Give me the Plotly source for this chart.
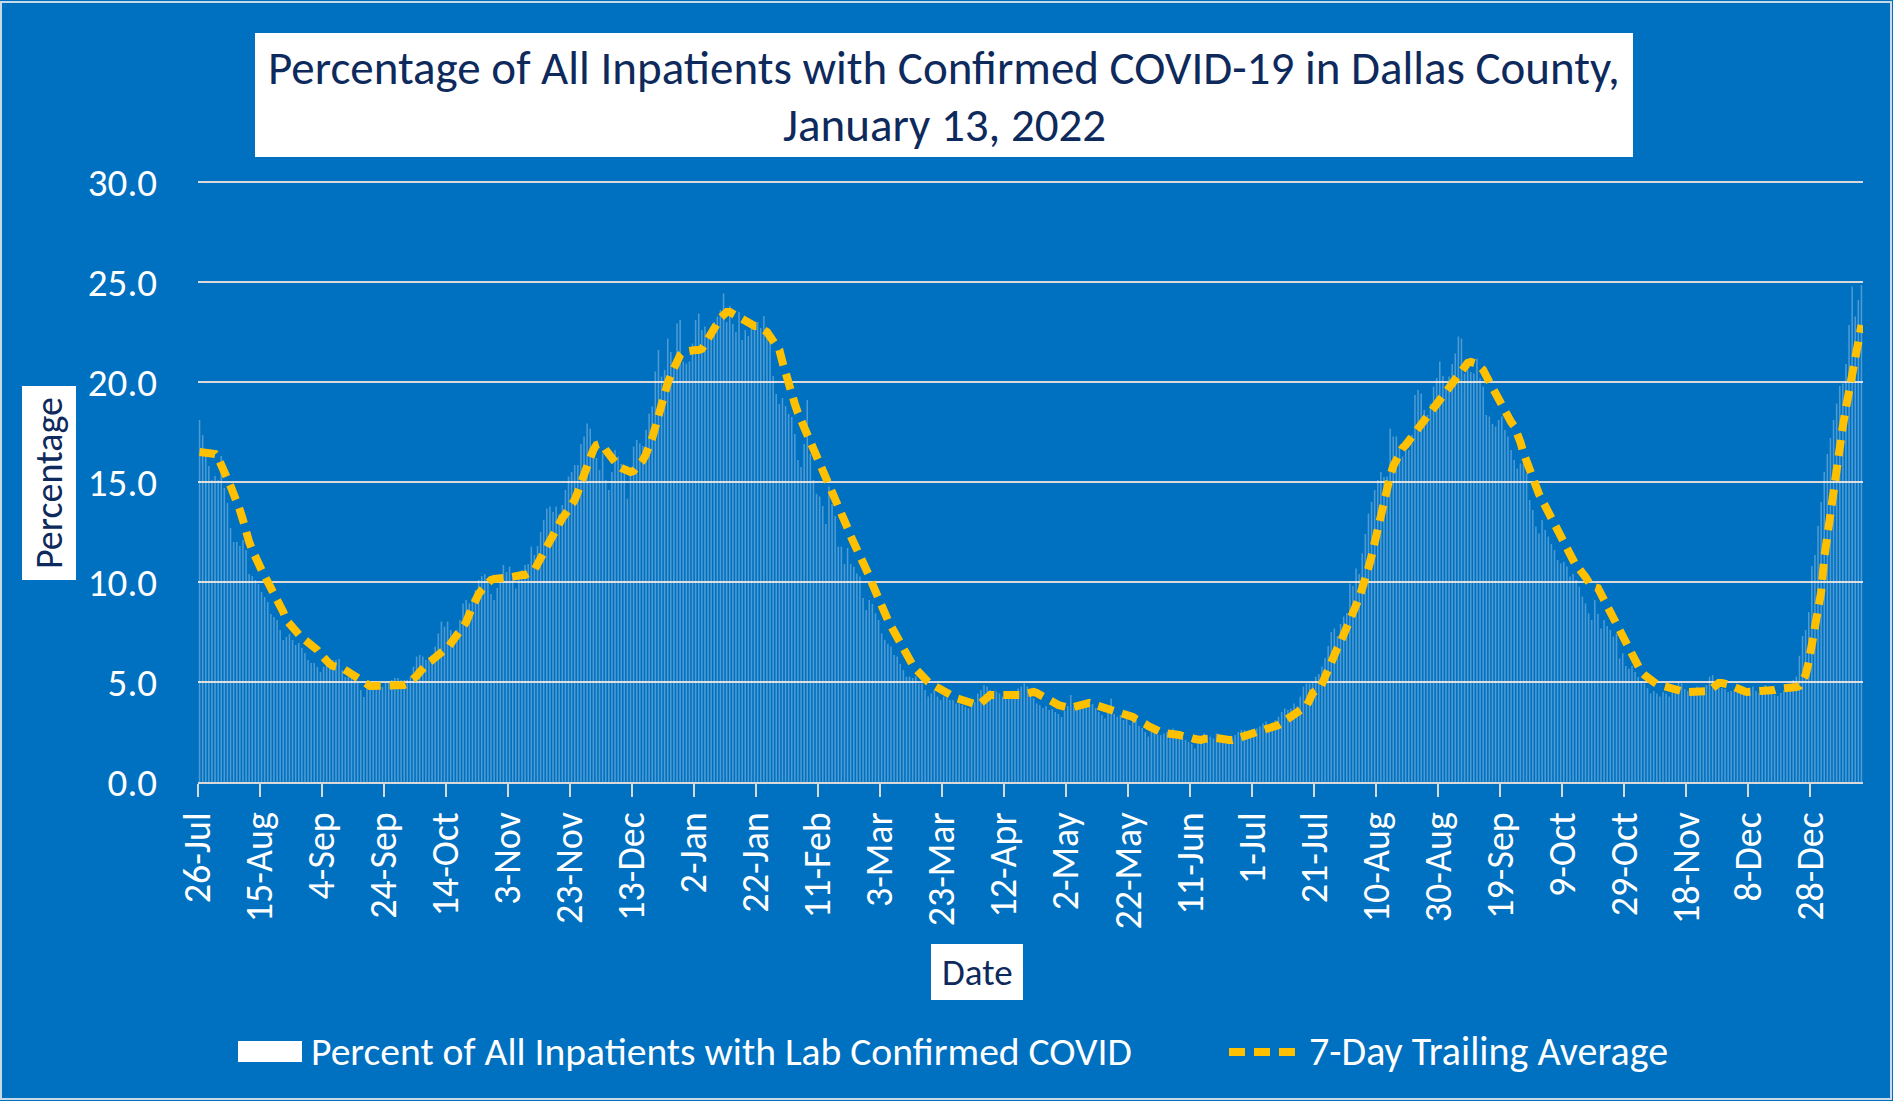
import pandas as pd
import plotly.graph_objects as go

# ---------------- data ----------------
START_DATE = "2020-07-26"

bar_name = "Percent of All Inpatients with Lab Confirmed COVID"
avg_name = "7-Day Trailing Average"

bar_values = [
    18.1, 17.35, 16.4, 15.8, 15.1, 15.3, 15.1, 16.3, 14.7, 13.95,
    12.7, 12.0, 12.0, 11.8, 12.1, 11.6, 10.4, 10.3, 10.1, 9.9,
    9.5, 9.25, 9.0, 8.4, 8.25, 8.1, 7.6, 7.1, 7.25, 7.4,
    7.1, 6.85, 6.95, 6.7, 6.45, 6.1, 5.95, 5.95, 5.75, 5.5,
    5.75, 5.85, 5.95, 6.1, 6.1, 6.15, 5.6, 5.25, 5.25, 5.4,
    5.1, 4.95, 4.6, 4.25, 4.75, 4.75, 4.75, 4.6, 4.6, 4.75,
    4.95, 5.0, 5.1, 5.2, 5.2, 5.1, 5.1, 5.1, 5.27, 5.77,
    6.27, 6.35, 6.27, 6.1, 6.18, 6.35, 6.77, 7.43, 8.02, 7.77,
    8.02, 7.6, 7.43, 7.6, 8.1, 8.93, 9.1, 8.93, 9.2, 9.6,
    10.1, 10.3, 10.4, 10.0, 9.4, 9.1, 9.7, 10.3, 10.85, 10.5,
    10.77, 10.4, 9.68, 10.2, 10.6, 10.85, 10.9, 11.77, 11.35, 11.8,
    12.5, 13.1, 13.68, 13.77, 13.5, 13.77, 13.4, 13.85, 14.6, 15.27,
    15.5, 15.85, 15.85, 16.9, 17.27, 17.93, 17.68, 16.43, 16.2, 15.6,
    16.43, 15.1, 14.6, 15.5, 16.6, 16.27, 15.9, 15.6, 14.18, 15.5,
    16.77, 17.1, 16.93, 16.8, 17.6, 18.43, 18.77, 20.52, 21.6, 20.27,
    20.6, 22.18, 21.5, 20.93, 22.93, 23.1, 21.02, 20.93, 21.02, 21.93,
    23.1, 23.43, 22.6, 22.77, 22.3, 22.77, 23.0, 23.27, 23.6, 24.43,
    23.0, 23.8, 22.9, 22.5, 23.5, 22.1, 22.6, 22.3, 22.8, 22.9,
    23.0, 22.7, 23.3, 22.6, 22.1, 20.3, 19.4, 18.9, 19.2, 18.8,
    18.4, 18.25, 17.4, 16.1, 15.75, 16.9, 19.1, 16.4, 15.1, 14.4,
    14.27, 13.8, 12.9, 14.77, 13.9, 13.3, 11.77, 11.77, 10.9, 11.7,
    10.9, 10.77, 10.43, 10.27, 9.2, 8.6, 9.1, 8.9, 8.43, 8.1,
    7.43, 7.1, 6.9, 6.77, 6.35, 6.27, 5.9, 5.6, 5.27, 5.27,
    5.2, 5.27, 4.93, 4.93, 4.6, 4.27, 4.43, 4.6, 4.27, 4.1,
    4.27, 4.2, 4.1, 4.1, 3.93, 3.93, 3.85, 3.77, 3.68, 3.93,
    4.0, 4.43, 4.6, 4.85, 4.77, 4.6, 4.43, 4.52, 4.43, 4.27,
    4.3, 4.35, 4.43, 4.52, 4.68, 4.77, 4.93, 4.77, 4.6, 4.2,
    3.93, 3.85, 3.7, 3.8, 3.6, 3.65, 3.5, 3.4, 3.25, 3.55,
    3.8, 4.35, 3.8, 3.7, 3.8, 4.0, 3.85, 4.1, 3.9, 3.7,
    3.5, 3.35, 3.18, 3.5, 4.18, 3.4, 3.27, 3.35, 3.1, 3.2,
    2.85, 3.35, 3.1, 2.8, 2.7, 2.5, 2.27, 2.5, 2.6, 2.35,
    2.35, 2.43, 2.5, 2.43, 2.68, 2.5, 2.35, 2.25, 2.1, 2.0,
    1.9, 1.68, 2.1, 2.27, 2.43, 2.35, 2.27, 2.18, 2.43, 2.1,
    2.02, 1.93, 2.1, 2.27, 2.35, 2.5, 2.6, 2.6, 2.43, 2.6,
    2.5, 2.68, 2.77, 2.93, 3.02, 2.85, 2.93, 3.1, 3.27, 3.5,
    3.68, 3.6, 3.68, 3.93, 3.77, 4.27, 4.77, 4.93, 4.93, 5.0,
    5.27, 5.4, 5.77, 6.2, 6.8, 7.5, 7.68, 7.3, 7.9, 8.27,
    8.45, 9.93, 9.8, 10.68, 10.4, 11.43, 12.4, 13.43, 14.0, 14.6,
    15.1, 15.5, 15.25, 15.27, 17.68, 17.27, 17.27, 16.77, 16.27, 16.77,
    16.6, 17.35, 19.35, 19.6, 19.43, 18.6, 18.35, 18.93, 19.77, 20.2,
    21.02, 20.3, 19.8, 20.27, 20.9, 21.43, 22.27, 22.18, 20.43, 20.6,
    20.5, 20.43, 21.18, 20.18, 19.77, 18.35, 18.27, 17.9, 17.77, 18.1,
    18.27, 17.6, 17.27, 16.6, 16.1, 15.68, 15.93, 15.93, 15.43, 14.1,
    13.6, 12.77, 12.43, 13.1, 12.6, 12.27, 11.9, 11.6, 11.1, 10.93,
    11.0, 10.77, 10.27, 10.4, 10.1, 9.77, 9.27, 8.93, 8.43, 8.1,
    9.1, 8.4, 7.68, 8.1, 7.8, 7.6, 7.27, 7.4, 6.18, 6.43,
    5.8, 5.68, 5.8, 5.5, 5.25, 5.05, 4.93, 4.7, 4.43, 4.55,
    4.43, 4.27, 4.5, 4.43, 4.27, 4.5, 4.75, 5.0, 4.93, 4.65,
    4.55, 4.65, 4.7, 4.77, 4.55, 4.7, 4.85, 5.27, 5.35, 5.0,
    4.8, 4.7, 4.65, 4.5, 4.55, 4.6, 4.7, 4.65, 4.45, 4.6,
    4.7, 4.77, 4.55, 4.45, 4.6, 4.85, 4.6, 4.45, 4.35, 4.3,
    4.45, 4.6, 4.85, 4.6, 5.1, 5.27, 6.3, 7.3, 7.6, 8.5,
    10.8, 11.35, 12.8, 14.0, 15.5, 16.4, 17.2, 18.1, 18.93, 19.8,
    19.93, 20.9, 22.85, 24.77, 23.27, 24.1, 24.85,
]

avg_values = [
    16.5, 16.5, 16.5, 16.4, 16.4, 16.4, 16.2, 15.9, 15.6, 15.2,
    14.8, 14.4, 14.1, 13.6, 13.1, 12.4, 12.0, 11.6, 11.2, 10.9,
    10.6, 10.3, 10.0, 9.8, 9.6, 9.2, 8.9, 8.5, 8.1, 7.9,
    7.7, 7.5, 7.4, 7.2, 7.1, 7.0, 6.8, 6.7, 6.6, 6.4,
    6.2, 6.0, 5.9, 5.8, 5.8, 5.75, 5.7, 5.6, 5.5, 5.3,
    5.2, 5.1, 5.0, 4.9, 4.85, 4.8, 4.8, 4.8, 4.8, 4.8,
    4.8, 4.8, 4.75, 4.75, 4.75, 4.8, 4.85, 4.9, 5.0, 5.1,
    5.3, 5.5, 5.7, 5.85, 6.0, 6.1, 6.25, 6.35, 6.5, 6.6,
    6.7, 6.9, 7.1, 7.25, 7.5, 7.75, 8.0, 8.4, 8.8, 9.2,
    9.4, 9.6, 9.8, 10.0, 10.1, 10.15, 10.2, 10.2, 10.2, 10.2,
    10.25, 10.3, 10.3, 10.35, 10.35, 10.35, 10.4, 10.5, 10.6, 10.9,
    11.2, 11.5, 11.8, 12.1, 12.45, 12.75, 13.0, 13.2, 13.4, 13.6,
    13.8, 14.1, 14.5, 15.0, 15.4, 15.9, 16.2, 16.6, 16.85, 16.9,
    16.85, 16.6, 16.4, 16.1, 15.9, 15.8, 15.7, 15.6, 15.5, 15.5,
    15.55, 15.7, 15.9, 16.1, 16.4, 16.75, 17.2, 17.75, 18.4, 19.0,
    19.5, 19.95, 20.35, 20.75, 21.1, 21.35, 21.5, 21.55, 21.6, 21.6,
    21.6, 21.6, 21.65, 21.9, 22.2, 22.5, 22.75, 23.0, 23.2, 23.35,
    23.5, 23.5, 23.4, 23.3, 23.25, 23.2, 23.1, 23.0, 22.9, 22.8,
    22.8, 22.75, 22.6, 22.5, 22.3, 22.1, 21.9, 21.6, 21.0, 20.4,
    19.75, 19.3, 18.9, 18.45, 18.1, 17.8, 17.45, 17.1, 16.7, 16.3,
    15.9, 15.5, 15.15, 14.8, 14.5, 14.2, 13.9, 13.5, 13.1, 12.7,
    12.3, 12.0, 11.7, 11.3, 11.0, 10.6, 10.3, 9.9, 9.5, 9.2,
    8.8, 8.45, 8.1, 7.8, 7.5, 7.2, 6.9, 6.6, 6.35, 6.1,
    5.85, 5.65, 5.45, 5.3, 5.15, 5.0, 4.9, 4.8, 4.7, 4.6,
    4.5, 4.4, 4.3, 4.25, 4.2, 4.15, 4.1, 4.05, 4.0, 3.95,
    3.9, 3.85, 3.95, 4.1, 4.25, 4.35, 4.35, 4.35, 4.3, 4.3,
    4.3, 4.25, 4.25, 4.25, 4.3, 4.35, 4.4, 4.45, 4.5, 4.5,
    4.45, 4.35, 4.25, 4.15, 4.1, 4.0, 3.95, 3.85, 3.8, 3.75,
    3.7, 3.7, 3.75, 3.8, 3.85, 3.9, 3.95, 3.95, 3.9, 3.85,
    3.85, 3.8, 3.75, 3.7, 3.65, 3.6, 3.55, 3.5, 3.45, 3.45,
    3.35, 3.25, 3.15, 3.1, 3.0, 2.9, 2.8, 2.7, 2.65, 2.55,
    2.5, 2.45, 2.45, 2.4, 2.4, 2.35, 2.35, 2.3, 2.3, 2.25,
    2.2, 2.15, 2.1, 2.1, 2.15, 2.2, 2.2, 2.2, 2.2, 2.15,
    2.1, 2.1, 2.1, 2.1, 2.15, 2.15, 2.2, 2.2, 2.25, 2.3,
    2.35, 2.45, 2.5, 2.55, 2.6, 2.65, 2.7, 2.75, 2.85, 2.95,
    3.05, 3.15, 3.25, 3.35, 3.45, 3.55, 3.6, 3.8, 4.1, 4.45,
    4.55, 4.6, 4.9, 5.3, 5.7, 6.0, 6.35, 6.7, 7.0, 7.35,
    7.7, 8.05, 8.4, 8.75, 9.2, 9.7, 10.1, 10.7, 11.3, 12.0,
    12.8, 13.45, 14.2, 14.8, 15.3, 15.8, 16.15, 16.45, 16.7, 16.85,
    17.05, 17.3, 17.55, 17.75, 17.95, 18.15, 18.35, 18.55, 18.7, 18.9,
    19.05, 19.25, 19.5, 19.7, 19.95, 20.2, 20.4, 20.6, 20.8, 20.95,
    21.0, 21.0, 20.9, 20.75, 20.6, 20.3, 20.0, 19.75, 19.4, 19.0,
    18.7, 18.4, 18.2, 18.0, 17.8, 17.5, 17.0, 16.45, 16.0, 15.6,
    15.2, 14.75, 14.4, 14.1, 13.8, 13.45, 13.1, 12.8, 12.45, 12.1,
    11.8, 11.5, 11.25, 11.0, 10.8, 10.65, 10.5, 10.25, 10.0, 9.75,
    9.75, 9.7, 9.4, 9.1, 8.8, 8.45, 8.1, 7.8, 7.45, 7.15,
    6.8, 6.5, 6.2, 5.95, 5.75, 5.5, 5.35, 5.2, 5.1, 5.0,
    4.9, 4.85, 4.8, 4.75, 4.7, 4.6, 4.55, 4.5, 4.5, 4.5,
    4.5, 4.5, 4.5, 4.5, 4.5, 4.45, 4.45, 4.55, 4.7, 4.85,
    4.95, 4.95, 4.95, 4.95, 4.85, 4.75, 4.65, 4.6, 4.55, 4.5,
    4.5, 4.5, 4.5, 4.55, 4.55, 4.55, 4.6, 4.6, 4.6, 4.65,
    4.65, 4.65, 4.7, 4.7, 4.75, 4.75, 4.8, 5.0, 5.35, 6.0,
    6.8, 7.6, 8.6, 9.5, 11.2, 12.4, 13.6, 14.7, 15.8, 16.75,
    17.8, 18.7, 19.7, 20.4, 21.2, 22.0, 22.85,
]

title_line1 = "Percentage of All Inpatients with Confirmed COVID-19 in Dallas County,"
title_line2 = "January 13, 2022"
x_title = "Date"
y_title = "Percentage"

dates = pd.date_range(START_DATE, periods=len(bar_values), freq="D")

# ---------------- style ----------------
BG = "#0070C0"
GRID = "#D9D9D9"
NAVY = "#0E2A5C"
YELLOW = "#FFC000"
FONT = "Carlito, Calibri, Lato, sans-serif"
WEIGHT = 300
DAY_MS = 86400000

# y: 0 at pixel 782, 20 px per unit; range top 30.3 -> pixel 176
Y_TOP = 30.3
L, R, B = 198, 30, 319
W, H = 1893, 1101
Y0_PX = H - B                       # 782
T = int(round(Y0_PX - Y_TOP * 20))  # 176
PW, PH = W - L - R, H - T - B


def px(x):
    return (x - L) / PW


def py(y):
    return (Y0_PX - y) / PH


def fnt(size, color):
    return dict(family=FONT, size=size, color=color, weight=WEIGHT)


fig = go.Figure()
fig.add_trace(go.Bar(
    x=dates, y=bar_values, name=bar_name,
    xperiod=DAY_MS, xperiodalignment="middle",
    marker=dict(color="rgba(255,255,255,0.30)", line=dict(width=0)),
    showlegend=False,
))
fig.add_trace(go.Scatter(
    x=dates, y=avg_values, name=avg_name, mode="lines",
    xperiod=DAY_MS, xperiodalignment="middle",
    line=dict(color=YELLOW, width=8, dash="16px,9px"),
    showlegend=False,
))

shapes = [
    # outer border
    dict(type="rect", xref="paper", yref="paper", x0=px(1), x1=px(1891), y0=py(1099), y1=py(2),
         line=dict(color="#C9D9E8", width=2), fillcolor="rgba(0,0,0,0)", layer="below"),
    # title box
    dict(type="rect", xref="paper", yref="paper", x0=px(255), x1=px(1633), y0=py(157), y1=py(33),
         line=dict(width=0), fillcolor="white"),
    # y title box
    dict(type="rect", xref="paper", yref="paper", x0=px(22), x1=px(76), y0=py(580), y1=py(386),
         line=dict(width=0), fillcolor="white"),
    # x title box
    dict(type="rect", xref="paper", yref="paper", x0=px(931), x1=px(1023), y0=py(1000), y1=py(944),
         line=dict(width=0), fillcolor="white"),
    # legend swatch: bars
    dict(type="rect", xref="paper", yref="paper", x0=px(238), x1=px(302), y0=py(1062), y1=py(1041),
         line=dict(width=0), fillcolor="white"),
    # legend swatch: average line
    dict(type="line", xref="paper", yref="paper", x0=px(1229), x1=px(1304), y0=py(1052), y1=py(1052),
         line=dict(color=YELLOW, width=8, dash="16px,9px")),
]

annotations = [
    dict(text=title_line1, xref="paper", yref="paper", x=px(944), y=py(68), showarrow=False,
         xanchor="center", yanchor="middle", font=fnt(47, NAVY)),
    dict(text=title_line2, xref="paper", yref="paper", x=px(944), y=py(125), showarrow=False,
         xanchor="center", yanchor="middle", font=fnt(47, NAVY)),
    dict(text=y_title, xref="paper", yref="paper", x=px(49), y=py(483), showarrow=False,
         textangle=-90, xanchor="center", yanchor="middle", font=fnt(38, NAVY)),
    dict(text=x_title, xref="paper", yref="paper", x=px(977), y=py(972), showarrow=False,
         xanchor="center", yanchor="middle", font=fnt(37, NAVY)),
    dict(text=bar_name, xref="paper", yref="paper", x=px(309), y=py(1051), showarrow=False,
         xanchor="left", yanchor="middle", font=fnt(39.6, "white")),
    dict(text=avg_name, xref="paper", yref="paper", x=px(1307), y=py(1051), showarrow=False,
         xanchor="left", yanchor="middle", font=fnt(40, "white")),
]

fig.update_layout(
    width=W, height=H,
    margin=dict(l=L, r=R, t=T, b=B, pad=0),
    paper_bgcolor=BG, plot_bgcolor=BG,
    bargap=0.5,
    showlegend=False,
    shapes=shapes,
    annotations=annotations,
    xaxis=dict(
        type="date",
        range=[START_DATE, "2022-01-14"],
        tick0=START_DATE, dtick=20 * DAY_MS,
        tickformat="%-d-%b", tickangle=-90,
        ticks="outside", ticklen=13, tickwidth=2, tickcolor=GRID,
        showline=True, linecolor=GRID, linewidth=2,
        showgrid=False, zeroline=False,
        tickfont=fnt(38, "white"),
    ),
    yaxis=dict(
        range=[0, Y_TOP], dtick=5, tick0=0, tickformat=".1f",
        showgrid=True, gridcolor=GRID, gridwidth=2,
        zeroline=False, showline=False, ticks="",
        ticklabelstandoff=40,
        tickfont=fnt(39, "white"),
    ),
)

fig.write_html("out.html", config={"displayModeBar": False},
               post_script="document.body.style.margin='0';")
